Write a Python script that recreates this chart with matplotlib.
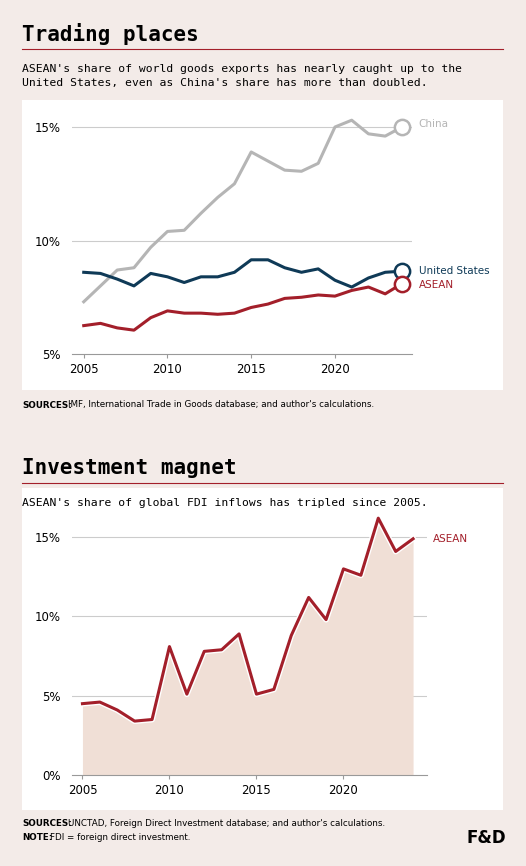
import matplotlib
matplotlib.use("Agg")
import matplotlib.pyplot as plt
from matplotlib.patches import Rectangle

years = list(range(2005, 2025))
china = [7.3, 8.0, 8.7, 8.8, 9.7, 10.4, 10.45, 11.2, 11.9, 12.5, 13.9, 13.5, 13.1, 13.05, 13.4, 15.0, 15.3, 14.7, 14.6, 15.0]
us = [8.6, 8.55, 8.3, 8.0, 8.55, 8.4, 8.15, 8.4, 8.4, 8.6, 9.15, 9.15, 8.8, 8.6, 8.75, 8.25, 7.95, 8.35, 8.6, 8.65]
asean = [6.25, 6.35, 6.15, 6.05, 6.6, 6.9, 6.8, 6.8, 6.75, 6.8, 7.05, 7.2, 7.45, 7.5, 7.6, 7.55, 7.8, 7.95, 7.65, 8.1]
fdi = [4.5, 4.6, 4.1, 3.4, 3.5, 8.1, 5.1, 7.8, 7.9, 8.9, 5.1, 5.4, 8.8, 11.2, 9.8, 13.0, 12.6, 16.2, 14.1, 14.9]

W, H = 526, 866
BG = '#f3ebe8'
RED = '#a31f2a'
NAVY = '#0f3a57'
GREY = '#b5b5b5'
COND = ['Liberation Sans Narrow', 'DejaVu Sans']
MONO = 'DejaVu Sans Mono'

fig = plt.figure(figsize=(W / 100, H / 100), dpi=100, facecolor=BG)

def box(x, y, w, h):
    # pixel coords (top-left origin) -> figure fraction
    return [x / W, 1 - (y + h) / H, w / W, h / H]

def ftext(x, y, s, **kw):
    fig.text(x / W, 1 - y / H, s, **kw)

# white panels, behind the axes
for (x, y, w, h) in [(22, 100, 481, 290), (22, 488, 481, 322)]:
    fig.patches.append(Rectangle((x / W, 1 - (y + h) / H), w / W, h / H,
                                 transform=fig.transFigure, facecolor='white', edgecolor='none', zorder=-5))

# titles
ftext(22, 34, 'Trading places', fontsize=15, fontweight='bold', family=MONO, va='center')
fig.add_artist(plt.Line2D([22 / W, 503 / W], [1 - 49 / H] * 2, color=RED, lw=0.8))
ftext(22, 76, "ASEAN's share of world goods exports has nearly caught up to the\nUnited States, even as China's share has more than doubled.",
      fontsize=8.2, family=MONO, va='center', linespacing=1.5)

ftext(22, 468, 'Investment magnet', fontsize=15, fontweight='bold', family=MONO, va='center')
fig.add_artist(plt.Line2D([22 / W, 503 / W], [1 - 483 / H] * 2, color=RED, lw=0.8))
ftext(22, 503, "ASEAN's share of global FDI inflows has tripled since 2005.",
      fontsize=8.2, family=MONO, va='center')

# chart 1
ax1 = fig.add_axes(box(72, 110, 340, 244))
ax1.patch.set_alpha(0)
ax1.set_xlim(2004.3, 2024.6)
ax1.set_ylim(5, 15.75)
for v in [10, 15]:
    ax1.axhline(v, color='#cccccc', lw=0.8, zorder=0)
ax1.plot(years, china, color=GREY, lw=2.2)
ax1.plot(years, us, color=NAVY, lw=2.2)
ax1.plot(years, asean, color=RED, lw=2.2)
for vals, c, lab, dy in [(china, GREY, 'China', 0.15), (us, NAVY, 'United States', 0), (asean, RED, 'ASEAN', -0.05)]:
    ax1.plot(years[-1], vals[-1], 'o', ms=11, mfc='white', mec=c, mew=1.8, clip_on=False)
    ax1.annotate(lab, (years[-1], vals[-1] + dy), xytext=(12, 0), textcoords='offset points',
                 color=c, fontsize=7.5, family=COND, va='center', annotation_clip=False)
ax1.set_yticks([5, 10, 15], ['5%', '10%', '15%'])
ax1.set_xticks([2005, 2010, 2015, 2020])
for s in ['top', 'right', 'left']:
    ax1.spines[s].set_visible(False)
ax1.spines['bottom'].set_color('#999999')
ax1.tick_params(axis='y', length=0, labelsize=8.5, pad=8)
ax1.tick_params(axis='x', length=3, color='#999999', labelsize=8.5)

ftext(22, 405, 'SOURCES:', fontsize=6.3, fontweight='bold', family=COND, va='center')
ftext(68, 405, "IMF, International Trade in Goods database; and author's calculations.",
      fontsize=6.3, family=COND, va='center')

# chart 2
ax2 = fig.add_axes(box(72, 515, 355, 260))
ax2.patch.set_alpha(0)
ax2.set_xlim(2004.4, 2024.8)
ax2.set_ylim(0, 16.4)
for v in [5, 10, 15]:
    ax2.axhline(v, color='#cccccc', lw=0.8, zorder=0)
ax2.fill_between(years, fdi, 0, color='#f0dfd6', lw=0, zorder=1)
ax2.plot(years, fdi, color='white', lw=4.2, zorder=2)
ax2.plot(years, fdi, color=RED, lw=2.2, zorder=3)
ax2.annotate('ASEAN', (years[-1], fdi[-1]), xytext=(14, 0), textcoords='offset points',
             color=RED, fontsize=7.5, family=COND, va='center', annotation_clip=False)
ax2.set_yticks([0, 5, 10, 15], ['0%', '5%', '10%', '15%'])
ax2.set_xticks([2005, 2010, 2015, 2020])
for s in ['top', 'right', 'left']:
    ax2.spines[s].set_visible(False)
ax2.spines['bottom'].set_color('#999999')
ax2.tick_params(axis='y', length=0, labelsize=8.5, pad=8)
ax2.tick_params(axis='x', length=3, color='#999999', labelsize=8.5)

ftext(22, 824, 'SOURCES:', fontsize=6.3, fontweight='bold', family=COND, va='center')
ftext(68, 824, "UNCTAD, Foreign Direct Investment database; and author's calculations.",
      fontsize=6.3, family=COND, va='center')
ftext(22, 838, 'NOTE:', fontsize=6.3, fontweight='bold', family=COND, va='center')
ftext(50, 838, 'FDI = foreign direct investment.', fontsize=6.3, family=COND, va='center')
ftext(506, 838, 'F&D', fontsize=12, fontweight='bold', va='center', ha='right')

fig.savefig('out.png', dpi=100, facecolor=BG)
